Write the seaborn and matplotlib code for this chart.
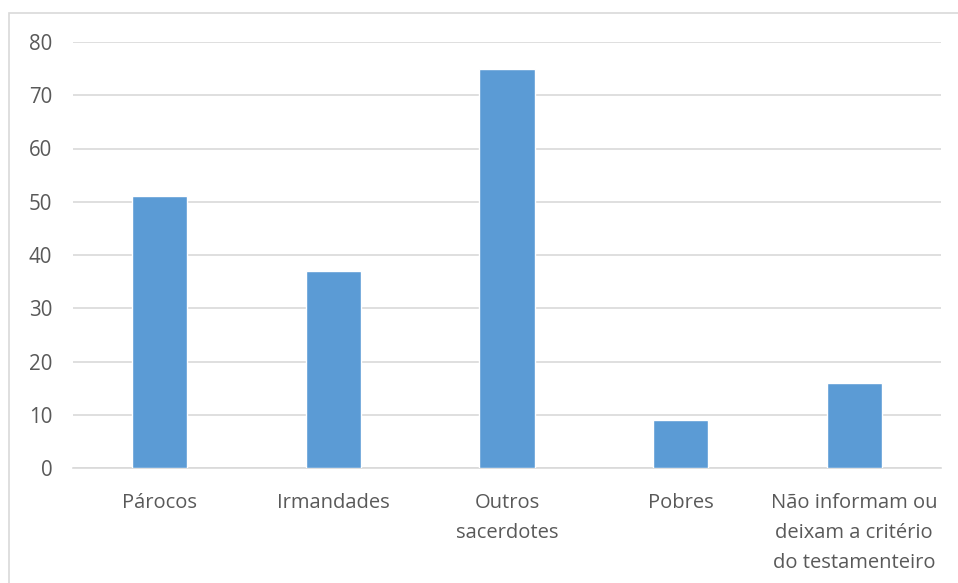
import matplotlib
matplotlib.use("Agg")
import matplotlib.pyplot as plt
import seaborn as sns
import pandas as pd
from matplotlib.patches import Rectangle

categories = ["Párocos", "Irmandades", "Outros\nsacerdotes", "Pobres",
              "Não informam ou\ndeixam a critério\ndo testamenteiro"]
values = [51, 37, 75, 9, 16]
yticks = [0, 10, 20, 30, 40, 50, 60, 70, 80]

sns.set_theme(style="white")
plt.rcParams['font.family'] = ['Open Sans', 'DejaVu Sans']

W, H = 958, 583
fig = plt.figure(figsize=(W / 100, H / 100), dpi=100)
ax = fig.add_axes([73 / W, 1 - 468 / H, (941 - 73) / W, (468 - 42) / H])

df = pd.DataFrame({"cat": categories, "val": values})
sns.barplot(data=df, x="cat", y="val", ax=ax, color="#5B9BD5", saturation=1,
            width=0.317, zorder=3)

ax.set_ylim(0, 80)
ax.set_yticks(yticks)
ax.yaxis.grid(True, color="#D9D9D9", linewidth=1.2, zorder=0)
ax.set_axisbelow(True)
for s in ["top", "right", "left"]:
    ax.spines[s].set_visible(False)
ax.spines["bottom"].set_color("#D9D9D9")
ax.spines["bottom"].set_linewidth(1.2)
ax.set_xlabel("")
ax.set_ylabel("")
ax.tick_params(axis="y", length=0, pad=15, labelsize=14.8, labelcolor="#595959")
ax.tick_params(axis="x", length=0, pad=18, labelsize=14.5, labelcolor="#595959")
for t in ax.get_xticklabels():
    t.set_linespacing(1.68)
    t.set_verticalalignment("top")

fig.patches.append(Rectangle((9 / W, -0.1), 1.1, 1.1 - 13 / H + 0.0,
                             transform=fig.transFigure, fill=False,
                             edgecolor="#D9D9D9", linewidth=1.2))

fig.savefig("out.png", dpi=100)
